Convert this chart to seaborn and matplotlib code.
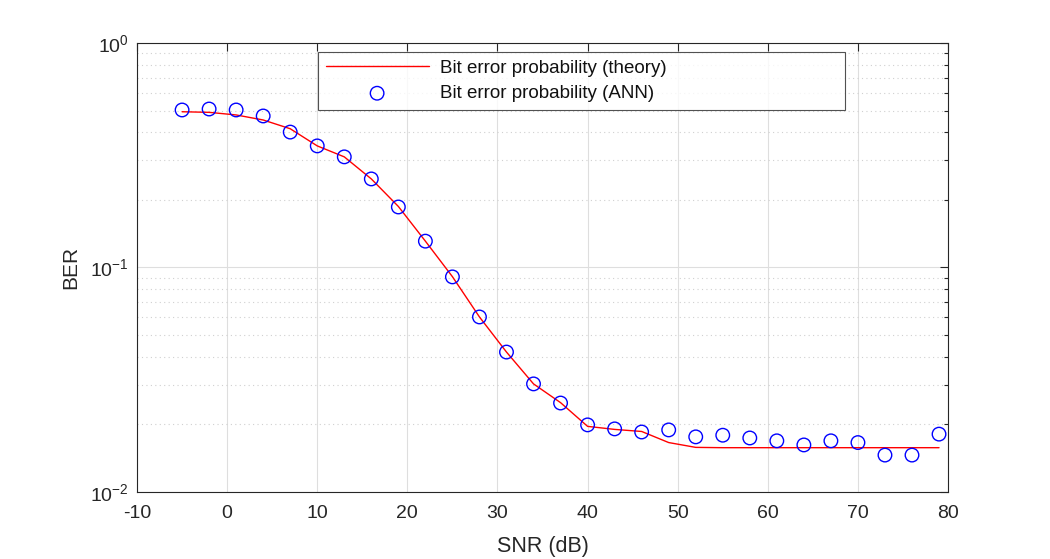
import numpy as np
import pandas as pd
import seaborn as sns
import matplotlib.pyplot as plt
from matplotlib.ticker import LogLocator, NullFormatter, FixedLocator

# SNR grid (dB)
snr = [-5, -2, 1, 4, 7, 10, 13, 16, 19, 22, 25, 28, 31, 34, 37, 40, 43, 46,
       49, 52, 55, 58, 61, 64, 67, 70, 73, 76, 79]

# theoretical bit error probability
ber_theory = [0.494, 0.491, 0.478, 0.454, 0.415, 0.348, 0.311, 0.248, 0.187,
              0.131, 0.0910, 0.0602, 0.0420, 0.0303, 0.0250, 0.0196, 0.0190,
              0.0186, 0.0166, 0.0158, 0.01575, 0.01575, 0.01575, 0.01575,
              0.01575, 0.01575, 0.01575, 0.01575, 0.01575]

# ANN estimate
ber_ann = [0.503, 0.508, 0.503, 0.473, 0.401, 0.348, 0.311, 0.248, 0.186,
           0.131, 0.0908, 0.0602, 0.0420, 0.0303, 0.0249, 0.0199, 0.0191,
           0.0185, 0.0189, 0.0176, 0.0179, 0.0174, 0.0169, 0.0162, 0.0169,
           0.0166, 0.0146, 0.0146, 0.0181]

y_ticks = [1e-2, 1e-1, 1]
y_ticklabels = [r"$10^{-2}$", r"$10^{-1}$", r"$10^{0}$"]

df = pd.DataFrame({"snr": snr, "theory": ber_theory, "ann": ber_ann})

sns.set_style("white")
plt.rcParams["font.family"] = ["Liberation Sans", "DejaVu Sans"]
plt.rcParams["mathtext.fontset"] = "custom"
plt.rcParams["mathtext.rm"] = "Liberation Sans"
plt.rcParams["mathtext.default"] = "regular"
plt.rcParams["axes.unicode_minus"] = False

fig = plt.figure(figsize=(10.5, 5.59), dpi=100)
ax = fig.add_axes([0.1305, 0.1199, 0.7724, 0.8032])

sns.lineplot(data=df, x="snr", y="theory", color="red", linewidth=1.0,
             label="Bit error probability (theory)", ax=ax)
sns.scatterplot(data=df, x="snr", y="ann", marker="o", s=95,
                facecolors="none", edgecolor="blue", linewidth=1.0,
                label="Bit error probability (ANN)", ax=ax, zorder=3)

ax.set_yscale("log")
ax.set_xlim(-10, 80)
ax.set_ylim(1e-2, 1)
ax.set_xticks(np.arange(-10, 81, 10))
ax.yaxis.set_major_locator(FixedLocator(y_ticks))
ax.set_yticklabels(y_ticklabels)
ax.yaxis.set_minor_locator(LogLocator(base=10, subs=np.arange(2, 10)))
ax.yaxis.set_minor_formatter(NullFormatter())

ax.grid(True, which="major", color="#dedede", linewidth=0.8, linestyle="-")
ax.grid(True, which="minor", axis="y", color="#d0d0d0", linewidth=0.8,
        linestyle=(0, (1, 3)))
ax.set_axisbelow(True)

ax.tick_params(which="both", direction="in", top=True, right=True,
               labelsize=14, colors="#262626")
ax.tick_params(which="major", length=6, width=0.8)
ax.tick_params(which="minor", length=3, width=0.8)
ax.tick_params(axis="x", pad=9.5)
ax.tick_params(axis="y", pad=6)
for s in ax.spines.values():
    s.set_color("#262626")
    s.set_linewidth(0.8)

ax.set_xlabel("SNR (dB)", fontsize=15.5, color="#262626", labelpad=10)
ax.set_ylabel("BER", fontsize=15, color="#262626", labelpad=7)

leg = ax.legend(loc="upper left", bbox_to_anchor=(0.2232, 0.0, 0.6498, 0.980),
                mode="expand", fontsize=13.5, frameon=True, fancybox=False,
                edgecolor="#262626", handlelength=5.5, handletextpad=0.6,
                borderpad=0.4, labelspacing=0.45, borderaxespad=0.0)
leg.get_frame().set_linewidth(0.8)
for t in leg.get_texts():
    t.set_color("#111111")

fig.savefig("out.png", dpi=100)
